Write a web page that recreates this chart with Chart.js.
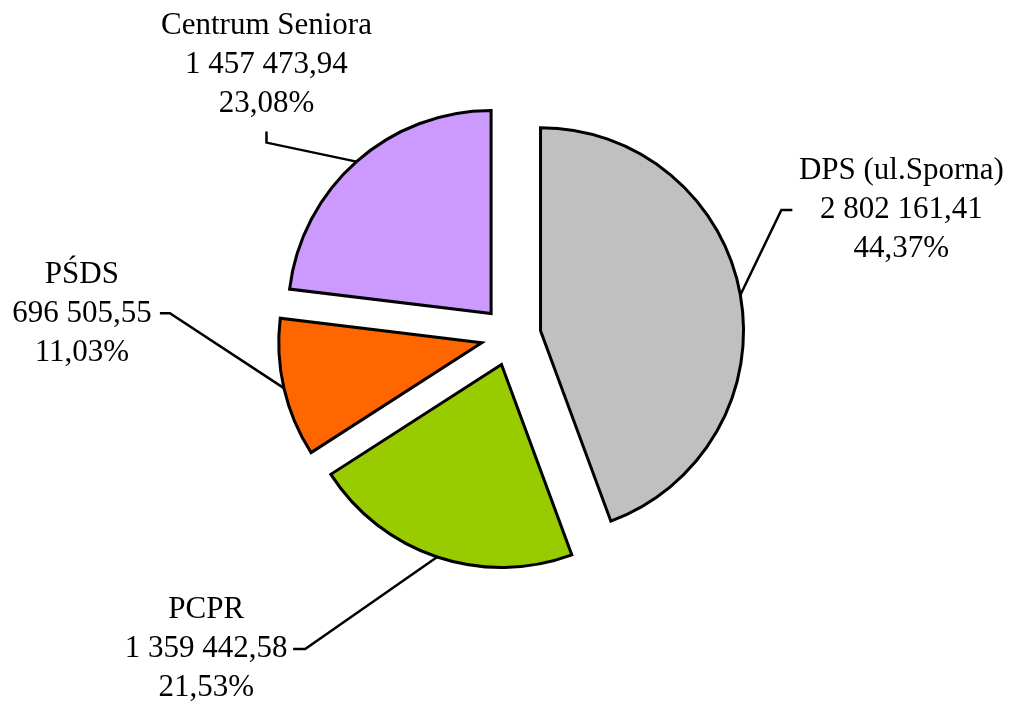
<!DOCTYPE html>
<html>
<head>
<meta charset="utf-8">
<script src="https://cdn.jsdelivr.net/npm/chart.js@4.4.0/dist/chart.umd.min.js"></script>
<style>
  html, body { margin: 0; padding: 0; background: #fff; }
  #wrap { width: 1011px; height: 704px; }
</style>
</head>
<body>
<div id="wrap"><canvas id="pie"></canvas></div>
<script>
// Units and their spending (PLN)
const labels = ['DPS (ul.Sporna)', 'PCPR', 'PŚDS', 'Centrum Seniora'];
const values = [2802161.41, 1359442.58, 696505.55, 1457473.94];
const colors = ['#C0C0C0', '#99CC00', '#FF6600', '#CC99FF'];

// leader line layout: elbow from arc edge, tail from elbow, text middle line from tail end
const leaders = [
    { elbow: [41, -85], tail: [11, 0], text: [109, 0] },
    { elbow: [-132, 92], tail: [-12, 0], text: [-87, 0] },
    { elbow: [-114, -75], tail: [-10, 0], text: [-78, 1] },
    { elbow: [-90, -19], tail: [0, -11], text: [0, -67] }
];

const EXPLODE = 30;
const LINE = 39;
const total = values.reduce((a, b) => a + b, 0);

function fmt(v) {
    const [int, dec] = v.toFixed(2).split('.');
    return int.replace(/\B(?=(\d{3})+(?!\d))/g, ' ') + ',' + dec;
}
function pct(v) {
    return (v / total * 100).toFixed(2).replace('.', ',') + '%';
}

// pull every slice out along its middle angle while it is drawn
const explode = {
    id: 'explode',
    beforeDatasetDraw(chart, args) {
        args.meta.data.forEach(arc => {
            const mid = (arc.startAngle + arc.endAngle) / 2;
            arc.x += Math.cos(mid) * EXPLODE;
            arc.y += Math.sin(mid) * EXPLODE;
        });
    },
    afterDatasetDraw(chart, args) {
        args.meta.data.forEach(arc => {
            const mid = (arc.startAngle + arc.endAngle) / 2;
            arc.x -= Math.cos(mid) * EXPLODE;
            arc.y -= Math.sin(mid) * EXPLODE;
        });
    }
};

// labels with leader lines
const leaderLabels = {
    id: 'leaderLabels',
    afterDraw(chart) {
        const ctx = chart.ctx;
        const meta = chart.getDatasetMeta(0);
        ctx.save();
        ctx.strokeStyle = '#000';
        ctx.lineWidth = 2.5;
        ctx.fillStyle = '#000';
        ctx.font = '31px "Liberation Serif"';
        ctx.textAlign = 'center';
        ctx.textBaseline = 'middle';
        meta.data.forEach((arc, i) => {
            const mid = (arc.startAngle + arc.endAngle) / 2;
            const r = arc.outerRadius + EXPLODE;
            const ex = arc.x + Math.cos(mid) * r, ey = arc.y + Math.sin(mid) * r;
            const L = leaders[i];
            const bx = ex + L.elbow[0], by = ey + L.elbow[1];
            const tx = bx + L.tail[0], ty = by + L.tail[1];
            ctx.beginPath();
            ctx.moveTo(ex, ey);
            ctx.lineTo(bx, by);
            ctx.lineTo(tx, ty);
            ctx.stroke();
            const lines = [labels[i], fmt(values[i]), pct(values[i])];
            const cx = tx + L.text[0], cy = ty + L.text[1];
            lines.forEach((s, k) => ctx.fillText(s, cx, cy + (k - 1) * LINE));
        });
        ctx.restore();
    }
};

new Chart(document.getElementById('pie'), {
    type: 'pie',
    data: {
        labels: labels,
        datasets: [{
            data: values,
            backgroundColor: colors,
            borderColor: '#000',
            borderWidth: 3,
            borderJoinStyle: 'miter',
            hoverOffset: 0,
            radius: 203
        }]
    },
    options: {
        responsive: true,
        maintainAspectRatio: false,
        animation: false,
        layout: { padding: { left: 11, right: 0, top: 0, bottom: 32 } },
        plugins: {
            legend: { display: false },
            tooltip: {
                callbacks: {
                    label: (item) => `${fmt(item.raw)} (${pct(item.raw)})`
                }
            }
        }
    },
    plugins: [explode, leaderLabels]
});
</script>
</body>
</html>
